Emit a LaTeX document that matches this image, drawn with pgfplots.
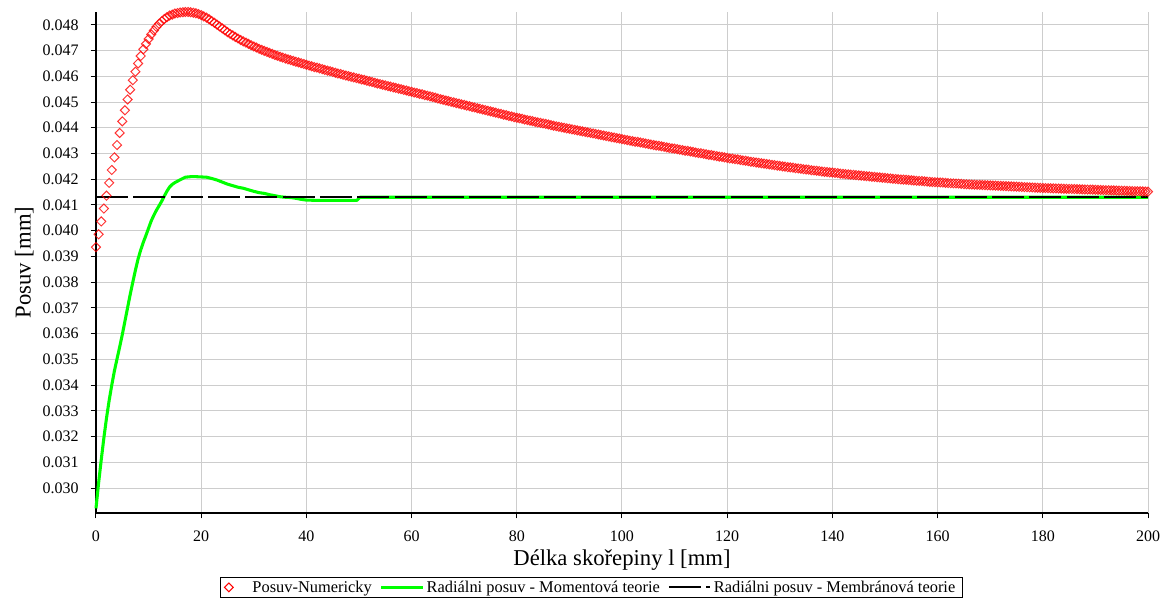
\documentclass[border=0pt]{standalone}
\usepackage{fontspec}
\setmainfont{Liberation Serif}
\usepackage{pgfplots}
\pgfplotsset{compat=1.18}
\definecolor{limegreen}{RGB}{0,255,0}
\definecolor{gridgray}{RGB}{205,205,205}
\begin{document}
\begin{tikzpicture}
\begin{axis}[
  scale only axis,
  width=789pt, height=375.75pt,
  xmin=0, xmax=200, ymin=0.02903, ymax=0.04850,
  axis x line*=bottom, axis y line*=left,
  axis line style={-, black, line width=0.9pt},
  xtick={0,20,40,60,80,100,120,140,160,180,200},
  ytick={0.030,0.031,0.032,0.033,0.034,0.035,0.036,0.037,0.038,0.039,0.040,0.041,0.042,0.043,0.044,0.045,0.046,0.047,0.048},
  scaled y ticks=false,
  yticklabel style={xshift=-5.5pt, /pgf/number format/.cd, fixed, fixed zerofill, precision=3},
  xticklabel style={yshift=-6pt},
  /pgf/number format/assume math mode=true,
  tick align=outside, major tick length=4pt,
  tick style={black, line width=0.75pt},
  grid=major, major grid style={gridgray, line width=0.75pt},
  ticklabel style={font=\fontsize{12}{14}\selectfont},
  xlabel={Délka skořepiny l [mm]}, ylabel={Posuv [mm]},
  label style={font=\fontsize{17}{19}\selectfont},
  xlabel style={at={(axis description cs:0.5,-0.1038)}, anchor=base},
  ylabel style={at={(axis description cs:-0.0621,0.5)}, anchor=base},
  clip=false,
  legend columns=3,
  legend style={at={(0.4705,-0.1277)}, anchor=north, draw=black, line width=0.6pt,
    font=\fontsize{12.3}{13}\selectfont, inner xsep=3pt, inner ysep=0.5pt,
    /tikz/every even column/.append style={column sep=4pt}},
]
\addlegendimage{legend image code/.code={\path[draw=none] (0pt,0pt) -- (19pt,0pt);\draw[red, line width=0.75pt] (0pt,0pt) -- (3.3pt,3.3pt) -- (6.6pt,0pt) -- (3.3pt,-3.3pt) -- cycle;}}
\addlegendentry{Posuv-Numericky}
\addlegendimage{legend image code/.code={\draw[limegreen, line width=2.2pt] (0pt,0pt) -- (31pt,0pt);}}
\addlegendentry{Radiálni posuv - Momentová teorie}
\addlegendimage{legend image code/.code={\draw[black, line width=1.5pt, dash pattern=on 24pt off 4pt] (0pt,0pt) -- (31pt,0pt);}}
\addlegendentry{Radiálni posuv - Membránová teorie}

\addplot[limegreen, line width=2.3pt, line join=round, forget plot] coordinates {
(0,0.02921) (0.5,0.03020) (1,0.03110) (1.5,0.03195) (2,0.03272) (2.5,0.03340) (3,0.03400) (3.5,0.03455) (4,0.03502) (4.5,0.03548)
(5,0.03596) (5.5,0.03648) (6,0.03700) (6.5,0.03752) (7,0.03800) (7.5,0.03847) (8,0.03890) (8.5,0.03925) (9,0.03955) (9.5,0.03982)
(10,0.04010) (10.5,0.04038) (11,0.04060) (11.5,0.04080) (12,0.04097) (12.5,0.04115) (13,0.04135) (13.5,0.04154) (14,0.04170) (14.5,0.04180)
(15,0.04187) (16,0.04198) (17,0.04208) (18,0.04210) (19,0.04210) (20,0.04209) (21,0.04208) (22,0.04203) (23,0.04197) (24,0.04189)
(25,0.04181) (26,0.04175) (27,0.04169) (28,0.04165) (29,0.04159) (30,0.04153) (31,0.04148) (32,0.04145) (33,0.04140) (34,0.04136)
(35,0.04132) (36,0.04130) (37,0.04129) (38,0.04126) (39,0.04122) (40,0.04119) (42,0.04118) (45,0.04118) (48,0.04118) (49.6,0.04118)
(50.2,0.04130) (200,0.04130)
};
\addplot[black, line width=1.5pt, dash pattern=on 24pt off 4pt, forget plot] coordinates {(0,0.04130) (200,0.04130)};
\addplot[only marks, mark=square, mark size=2.4pt, mark options={rotate=45, draw=red, draw opacity=0.8, line width=0.75pt, fill=none}, forget plot] coordinates {
(0,0.03936) (0.5,0.03986) (1,0.04036) (1.5,0.04086) (2,0.04136) (2.5,0.04186) (3,0.04236) (3.5,0.04285) (4,0.04333) (4.5,0.04380)
(5,0.04425) (5.5,0.04468) (6,0.04510) (6.5,0.04548) (7,0.04585) (7.5,0.04618) (8,0.04650) (8.5,0.04679) (9,0.04705) (9.5,0.04726)
(10,0.04745) (10.5,0.04763) (11,0.04778) (11.5,0.04792) (12,0.04804) (12.5,0.04814) (13,0.04823) (13.5,0.04830) (14,0.04836) (14.5,0.04840)
(15,0.04844) (15.5,0.04846) (16,0.04848) (16.5,0.04849) (17,0.04850) (17.5,0.04850) (18,0.04849) (18.5,0.04847) (19,0.04845) (19.5,0.04842)
(20,0.04838) (20.5,0.04833) (21,0.04828) (21.5,0.04822) (22,0.04815) (22.5,0.04808) (23,0.04801) (23.5,0.04794) (24,0.04786) (24.5,0.04779)
(25,0.04772) (25.5,0.04765) (26,0.04759) (26.5,0.04753) (27,0.04747) (27.5,0.04741) (28,0.04736) (28.5,0.04731) (29,0.04726) (29.5,0.04721)
(30,0.04716) (30.5,0.04712) (31,0.04707) (31.5,0.04703) (32,0.04699) (32.5,0.04695) (33,0.04691) (33.5,0.04687) (34,0.04683) (34.5,0.04680)
(35,0.04676) (35.5,0.04673) (36,0.04669) (36.5,0.04666) (37,0.04663) (37.5,0.04660) (38,0.04657) (38.5,0.04654) (39,0.04651) (39.5,0.04648)
(40,0.04645) (40.5,0.04642) (41,0.04639) (41.5,0.04636) (42,0.04634) (42.5,0.04631) (43,0.04628) (43.5,0.04625) (44,0.04622) (44.5,0.04620)
(45,0.04617) (45.5,0.04614) (46,0.04611) (46.5,0.04609) (47,0.04606) (47.5,0.04603) (48,0.04601) (48.5,0.04598) (49,0.04596) (49.5,0.04593)
(50,0.04591) (50.5,0.04588) (51,0.04586) (51.5,0.04583) (52,0.04580) (52.5,0.04578) (53,0.04575) (53.5,0.04572) (54,0.04570) (54.5,0.04567)
(55,0.04565) (55.5,0.04562) (56,0.04560) (56.5,0.04557) (57,0.04555) (57.5,0.04552) (58,0.04550) (58.5,0.04547) (59,0.04545) (59.5,0.04542)
(60,0.04540) (60.5,0.04537) (61,0.04535) (61.5,0.04532) (62,0.04530) (62.5,0.04527) (63,0.04525) (63.5,0.04522) (64,0.04520) (64.5,0.04517)
(65,0.04514) (65.5,0.04511) (66,0.04509) (66.5,0.04506) (67,0.04504) (67.5,0.04501) (68,0.04499) (68.5,0.04496) (69,0.04494) (69.5,0.04491)
(70,0.04489) (70.5,0.04486) (71,0.04484) (71.5,0.04481) (72,0.04479) (72.5,0.04476) (73,0.04474) (73.5,0.04471) (74,0.04469) (74.5,0.04466)
(75,0.04464) (75.5,0.04461) (76,0.04459) (76.5,0.04456) (77,0.04454) (77.5,0.04451) (78,0.04449) (78.5,0.04446) (79,0.04444) (79.5,0.04441)
(80,0.04439) (80.5,0.04437) (81,0.04435) (81.5,0.04432) (82,0.04430) (82.5,0.04428) (83,0.04426) (83.5,0.04423) (84,0.04421) (84.5,0.04419)
(85,0.04417) (85.5,0.04415) (86,0.04413) (86.5,0.04410) (87,0.04408) (87.5,0.04406) (88,0.04404) (88.5,0.04402) (89,0.04400) (89.5,0.04398)
(90,0.04396) (90.5,0.04394) (91,0.04392) (91.5,0.04390) (92,0.04388) (92.5,0.04386) (93,0.04384) (93.5,0.04382) (94,0.04380) (94.5,0.04378)
(95,0.04376) (95.5,0.04374) (96,0.04372) (96.5,0.04370) (97,0.04368) (97.5,0.04366) (98,0.04364) (98.5,0.04362) (99,0.04360) (99.5,0.04358)
(100,0.04356) (100.5,0.04354) (101,0.04352) (101.5,0.04350) (102,0.04348) (102.5,0.04346) (103,0.04345) (103.5,0.04343) (104,0.04341) (104.5,0.04339)
(105,0.04337) (105.5,0.04335) (106,0.04333) (106.5,0.04331) (107,0.04330) (107.5,0.04328) (108,0.04326) (108.5,0.04324) (109,0.04322) (109.5,0.04320)
(110,0.04319) (110.5,0.04317) (111,0.04315) (111.5,0.04313) (112,0.04311) (112.5,0.04310) (113,0.04308) (113.5,0.04306) (114,0.04304) (114.5,0.04302)
(115,0.04301) (115.5,0.04299) (116,0.04297) (116.5,0.04295) (117,0.04294) (117.5,0.04292) (118,0.04290) (118.5,0.04288) (119,0.04287) (119.5,0.04285)
(120,0.04283) (120.5,0.04281) (121,0.04280) (121.5,0.04278) (122,0.04277) (122.5,0.04275) (123,0.04273) (123.5,0.04272) (124,0.04270) (124.5,0.04268)
(125,0.04267) (125.5,0.04265) (126,0.04264) (126.5,0.04262) (127,0.04261) (127.5,0.04259) (128,0.04258) (128.5,0.04256) (129,0.04255) (129.5,0.04253)
(130,0.04252) (130.5,0.04250) (131,0.04249) (131.5,0.04247) (132,0.04246) (132.5,0.04245) (133,0.04243) (133.5,0.04242) (134,0.04241) (134.5,0.04239)
(135,0.04238) (135.5,0.04237) (136,0.04235) (136.5,0.04234) (137,0.04233) (137.5,0.04232) (138,0.04230) (138.5,0.04229) (139,0.04228) (139.5,0.04227)
(140,0.04226) (140.5,0.04225) (141,0.04224) (141.5,0.04222) (142,0.04221) (142.5,0.04220) (143,0.04219) (143.5,0.04218) (144,0.04217) (144.5,0.04216)
(145,0.04215) (145.5,0.04214) (146,0.04213) (146.5,0.04212) (147,0.04211) (147.5,0.04210) (148,0.04209) (148.5,0.04208) (149,0.04207) (149.5,0.04206)
(150,0.04205) (150.5,0.04204) (151,0.04203) (151.5,0.04202) (152,0.04201) (152.5,0.04200) (153,0.04199) (153.5,0.041985) (154,0.04198) (154.5,0.04197)
(155,0.04196) (155.5,0.04195) (156,0.04194) (156.5,0.041935) (157,0.04193) (157.5,0.04192) (158,0.04191) (158.5,0.04190) (159,0.04189) (159.5,0.041885)
(160,0.04188) (160.5,0.041875) (161,0.04187) (161.5,0.04186) (162,0.04185) (162.5,0.041845) (163,0.04184) (163.5,0.041835) (164,0.04183) (164.5,0.04182)
(165,0.04181) (165.5,0.041805) (166,0.04180) (166.5,0.041795) (167,0.04179) (167.5,0.041785) (168,0.04178) (168.5,0.041775) (169,0.04177) (169.5,0.041765)
(170,0.04176) (170.5,0.041755) (171,0.04175) (171.5,0.041745) (172,0.04174) (172.5,0.041735) (173,0.04173) (173.5,0.041725) (174,0.04172) (174.5,0.041715)
(175,0.04171) (175.5,0.041705) (176,0.04170) (176.5,0.041695) (177,0.04169) (177.5,0.041685) (178,0.04168) (178.5,0.041675) (179,0.04167) (179.5,0.041665)
(180,0.04166) (180.5,0.041657) (181,0.041653) (181.5,0.041650) (182,0.041646) (182.5,0.041643) (183,0.041639) (183.5,0.041636) (184,0.041632) (184.5,0.041629)
(185,0.041625) (185.5,0.041622) (186,0.041618) (186.5,0.041615) (187,0.041611) (187.5,0.041608) (188,0.041604) (188.5,0.041601) (189,0.041597) (189.5,0.041594)
(190,0.041590) (190.5,0.041587) (191,0.041583) (191.5,0.041580) (192,0.041576) (192.5,0.041573) (193,0.041569) (193.5,0.041566) (194,0.041562) (194.5,0.041559)
(195,0.041555) (195.5,0.041552) (196,0.041548) (196.5,0.041545) (197,0.041541) (197.5,0.041538) (198,0.041534) (198.5,0.041531) (199,0.041527) (199.5,0.041524)
(200,0.041520)
};
\coordinate (bbsw) at (rel axis cs:-0.09125,-0.17565);
\coordinate (bbne) at (rel axis cs:1.01806,1.02395);
\end{axis}
\pgfresetboundingbox
\path (bbsw) rectangle (bbne);
\end{tikzpicture}
\end{document}
